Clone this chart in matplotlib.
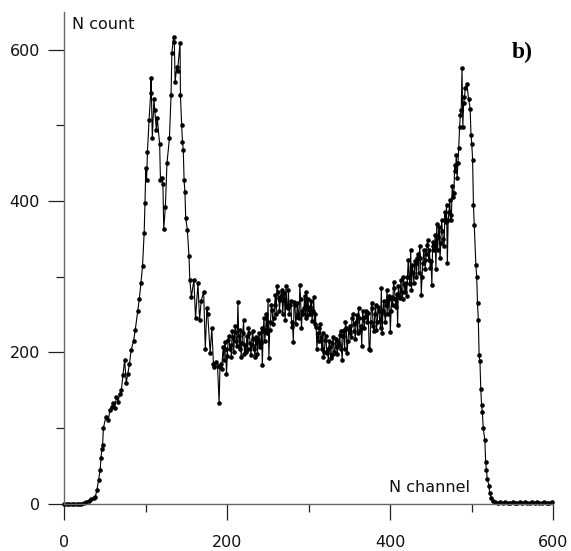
import matplotlib.pyplot as plt
from matplotlib.ticker import MultipleLocator

# spectrum, split in pieces so each pair of lists stays short
rise_ch = [0, 3, 6, 9, 12, 15, 18, 21, 24, 27, 30, 33, 36, 38, 40, 42, 44, 45, 46, 47, 48,
           51, 54, 56, 58, 60, 62, 64, 66, 68, 70, 72, 74, 76, 78, 80, 82, 85, 87, 90, 92,
           94, 96, 98, 99, 100, 101, 102, 104]
rise_n = [0, 0, 0, 0, 0, 0, 0, 0, 1, 2, 4, 6, 8, 9, 18, 31, 45, 60, 72, 78, 100,
          115, 110, 124, 128, 133, 127, 141, 135, 145, 150, 170, 190, 160, 172, 185, 203, 215, 229, 254, 270,
          291, 314, 358, 397, 443, 428, 464, 507]

peak_ch = [106, 106.5, 108, 110, 111, 113, 114, 117, 118, 120,
           121, 122, 124, 126, 129, 131, 132, 134, 135, 136,
           138, 139, 142, 142.5, 144, 145, 146, 147, 148, 149,
           151, 153, 154, 156, 159, 161, 164, 166, 168, 171,
           173, 175, 176, 179, 181, 183, 184, 186, 188, 190]
peak_n = [542, 563, 483, 535, 520, 494, 510, 475, 427, 430,
          423, 363, 392, 450, 483, 540, 596, 616, 610, 557,
          577, 572, 609, 540, 500, 478, 467, 427, 412, 377,
          362, 327, 296, 273, 296, 245, 291, 243, 268, 280,
          205, 259, 250, 199, 232, 185, 180, 187, 182, 133]

mid_ch = [191, 192, 195, 197, 199, 201, 203, 205, 207, 209,
          211, 213, 215, 217, 220, 222, 223, 226, 228, 229,
          232, 234, 236, 238, 240, 242, 243, 245, 247, 250,
          251, 252, 255, 257, 259, 261, 263, 265, 267, 269,
          271, 272, 274, 277, 279, 281, 282, 285, 287, 289,
          291, 292, 294, 297, 298, 300, 302, 304, 306, 307,
          309, 310, 311, 313, 315, 318, 320, 322, 324, 326,
          328, 330, 332, 334, 336, 338, 341, 343, 345, 347,
          349, 351, 353, 355, 357, 359, 361, 363, 365, 367,
          369, 371, 373, 374]
mid_n = [180, 185, 207, 214, 172, 216, 205, 194, 220, 227,
         215, 267, 205, 194, 243, 210, 201, 232, 212, 196,
         218, 194, 212, 216, 207, 232, 183, 245, 229, 269,
         192, 229, 256, 245, 276, 287, 272, 269, 282, 269,
         243, 287, 258, 263, 234, 214, 267, 247, 251, 289,
         232, 254, 258, 280, 249, 256, 260, 241, 273, 238,
         234, 205, 225, 232, 220, 194, 216, 199, 188, 207,
         196, 220, 199, 207, 214, 223, 190, 229, 240, 199,
         229, 225, 245, 238, 218, 249, 258, 229, 209, 245,
         247, 252, 252, 205]

# the in-between channels of the noisy band
mid2_ch = [193, 196, 198, 200, 202, 204, 206, 208, 210, 212,
           214, 216, 218, 219, 221, 224, 225, 227, 230, 231,
           233, 235, 237, 239, 241, 244, 246, 248, 249, 253,
           254, 256, 258, 260, 262, 264, 266, 268, 270, 273,
           275, 276, 278, 280, 283, 284, 286, 288, 290, 293,
           295, 296, 299, 301, 303, 305, 308, 312, 314, 316,
           317, 319, 321, 323, 325, 327, 329, 331, 333, 335,
           337, 339, 340, 342, 344, 346, 348, 350, 352, 354,
           356, 358, 360, 362, 364, 366, 368, 370, 372]
mid2_n = [178, 190, 205, 195, 222, 210, 228, 200, 235, 208,
          222, 230, 212, 225, 198, 222, 205, 226, 210, 228,
          205, 220, 198, 225, 212, 228, 215, 250, 225, 240,
          262, 238, 262, 250, 280, 255, 275, 250, 278, 260,
          282, 250, 268, 240, 262, 238, 265, 245, 270, 250,
          275, 245, 270, 250, 268, 255, 250, 215, 238, 205,
          225, 200, 222, 205, 215, 192, 212, 200, 218, 198,
          210, 228, 205, 222, 205, 232, 215, 235, 220, 250,
          228, 240, 225, 245, 235, 255, 232, 255, 240]

right_ch = [375, 377, 379, 381, 383, 385, 387, 389, 390, 391,
            393, 396, 398, 400, 402, 404, 406, 408, 409, 410,
            412, 414, 416, 418, 419, 422, 423, 425, 426, 428,
            431, 433, 436, 438, 440, 442, 445, 447, 449, 451,
            452, 454, 456, 457, 459, 461, 463, 465, 467, 470,
            471, 473, 475, 477, 479, 481, 483, 485, 486, 487,
            488, 489, 490, 491, 492, 494, 496, 498, 499, 500,
            501, 502, 503, 505, 506, 507, 508, 509, 510, 511,
            512, 513, 514, 516, 517, 518, 519, 521, 522, 524, 526]
right_n = [203, 265, 235, 251, 230, 260, 242, 285, 225, 255,
           250, 282, 270, 227, 273, 293, 270, 277, 236, 288,
           272, 280, 300, 280, 291, 322, 300, 335, 282, 305,
           318, 324, 340, 276, 318, 322, 342, 322, 311, 289,
           346, 335, 310, 370, 353, 324, 375, 350, 386, 318,
           375, 401, 381, 405, 447, 461, 450, 498, 513, 520,
           575, 498, 529, 537, 549, 555, 535, 522, 487, 475,
           454, 395, 368, 315, 300, 265, 243, 196, 188, 152,
           130, 121, 100, 84, 55, 44, 33, 24, 14, 7, 3]

right2_ch = [376, 378, 380, 382, 384, 386, 388, 392, 394, 395,
             397, 399, 401, 403, 405, 407, 411, 413, 415, 417,
             420, 421, 424, 427, 429, 430, 432, 434, 435, 437,
             439, 441, 443, 444, 446, 448, 450, 453, 455, 458,
             460, 462, 464, 466, 468, 469, 472, 474, 476, 478,
             480, 482, 484]
right2_n = [240, 258, 228, 262, 240, 255, 232, 268, 240, 262,
            250, 275, 255, 262, 285, 260, 275, 295, 270, 290,
            275, 300, 290, 315, 292, 320, 300, 330, 305, 325,
            300, 335, 310, 330, 348, 335, 320, 340, 355, 335,
            365, 345, 360, 340, 372, 395, 385, 375, 420, 410,
            440, 430, 470]

tail_ch = [529, 532, 535, 538, 541, 544, 547, 550, 553, 556, 559, 562,
           565, 568, 571, 574, 577, 580, 583, 586, 589, 592, 595, 598]
tail_n = [2, 1, 2, 1, 2, 1, 1, 2, 1, 1, 2, 1,
          2, 1, 1, 2, 1, 2, 1, 1, 2, 1, 1, 2]

x_ticks = [0, 200, 400, 600]
y_ticks = [0, 200, 400, 600]

pairs = sorted(zip(rise_ch + peak_ch + mid_ch + mid2_ch + right_ch + right2_ch + tail_ch,
                   rise_n + peak_n + mid_n + mid2_n + right_n + right2_n + tail_n))
channel = [p[0] for p in pairs]
counts = [p[1] for p in pairs]

fig = plt.figure(figsize=(5.71, 5.51), dpi=100)
ax = fig.add_axes([0.1126, 0.0858, 0.8564, 0.893])

ax.plot(channel, counts, color='black', lw=0.8, marker='o', markersize=2.3, clip_on=False)

ax.set_xlim(0, 600)
ax.set_ylim(0, 650)
ax.spines['top'].set_visible(False)
ax.spines['right'].set_visible(False)
for s in ['left', 'bottom']:
    ax.spines[s].set_color('#666666')
    ax.spines[s].set_linewidth(1.0)

ax.set_xticks(x_ticks)
ax.set_yticks(y_ticks)
ax.xaxis.set_minor_locator(MultipleLocator(100))
ax.yaxis.set_minor_locator(MultipleLocator(100))
ax.tick_params(which='major', direction='out', length=11.5, width=0.9, color='#222222',
               labelsize=11.5, labelcolor='#111111')
ax.tick_params(which='minor', direction='out', length=5.8, width=0.9, color='#222222')
ax.tick_params(axis='x', which='major', pad=11)
ax.tick_params(axis='y', which='major', pad=6)

ax.text(0.016, 0.973, 'N count', transform=ax.transAxes, fontsize=11.5, va='center', ha='left', color='#111111')
ax.text(0.665, 0.033, 'N channel', transform=ax.transAxes, fontsize=11.5, va='center', ha='left', color='#111111')
ax.text(0.936, 0.918, 'b)', transform=ax.transAxes, fontsize=17, fontweight='bold', family='Liberation Serif',
        va='center', ha='center')

fig.savefig('out.png', dpi=100)
